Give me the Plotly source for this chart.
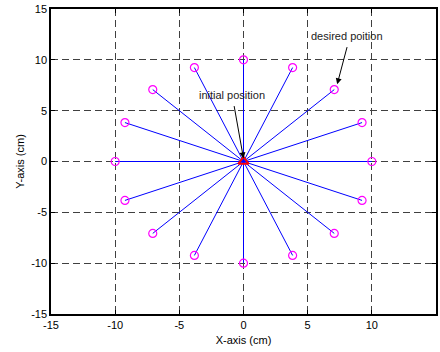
import numpy as np
import plotly.graph_objects as go

# target points: radius 10, every 22.5 degrees
radius = 10
angles_deg = [0, 22.5, 45, 67.5, 90, 112.5, 135, 157.5, 180, 202.5, 225, 247.5, 270, 292.5, 315, 337.5]
tick_vals = [-15, -10, -5, 0, 5, 10, 15]
tick_text = ["-15", "-10", "-5", "0", "5", "10", "15"]
start = (0, 0)

xs = [radius * np.cos(np.radians(a)) for a in angles_deg]
ys = [radius * np.sin(np.radians(a)) for a in angles_deg]

fig = go.Figure()
lx, ly = [], []
for x, y in zip(xs, ys):
    lx += [start[0], x, None]
    ly += [start[1], y, None]
fig.add_trace(go.Scatter(x=lx, y=ly, mode="lines", line=dict(color="blue", width=1), hoverinfo="skip"))
fig.add_trace(go.Scatter(x=xs, y=ys, mode="markers",
                         marker=dict(symbol="circle-open", size=8, color="magenta", line=dict(width=1.2))))
fig.add_trace(go.Scatter(x=[start[0]], y=[start[1]], mode="markers",
                         marker=dict(symbol="triangle-up-open", size=9, color="red", line=dict(width=2))))

fig.add_annotation(x=0, y=0.3, ax=-0.75, ay=5.6, xref="x", yref="y", axref="x", ayref="y",
                   text="", showarrow=True, arrowhead=2, arrowsize=1.2, arrowwidth=1, arrowcolor="black")
fig.add_annotation(x=-0.9, y=6.5, xref="x", yref="y", text="initial position", showarrow=False,
                   font=dict(size=11, color="#222", family="Liberation Sans, Arial"))
fig.add_annotation(x=7.3, y=7.6, ax=8.1, ay=11.4, xref="x", yref="y", axref="x", ayref="y",
                   text="", showarrow=True, arrowhead=2, arrowsize=1.2, arrowwidth=1, arrowcolor="black")
fig.add_annotation(x=8.1, y=12.3, xref="x", yref="y", text="desired poition", showarrow=False,
                   font=dict(size=11, color="#222", family="Liberation Sans, Arial"))

axis_common = dict(range=[-15, 15], tickvals=tick_vals, ticktext=tick_text, showgrid=True, gridcolor="#404040",
                   griddash="7px,4px", gridwidth=1, zeroline=False, showline=True, linecolor="black",
                   linewidth=1.5, mirror="ticks", ticks="inside", ticklen=4, tickcolor="black",
                   automargin=False,
                   tickfont=dict(size=11, color="black", family="Liberation Sans, Arial"))
fig.update_xaxes(**axis_common, title=dict(text="X-axis (cm)", standoff=6,
                 font=dict(size=11, color="black", family="Liberation Sans, Arial")))
fig.update_yaxes(**axis_common, title=dict(text="Y-axis (cm)", standoff=4,
                 font=dict(size=11, color="black", family="Liberation Sans, Arial")))

fig.update_layout(width=440, height=352, margin=dict(l=51, r=4, t=9, b=38),
                  plot_bgcolor="white", paper_bgcolor="white", showlegend=False)
fig.write_html("out.html", config={"displayModeBar": False},
               post_script="document.body.style.margin='0';document.body.style.overflow='hidden';")
